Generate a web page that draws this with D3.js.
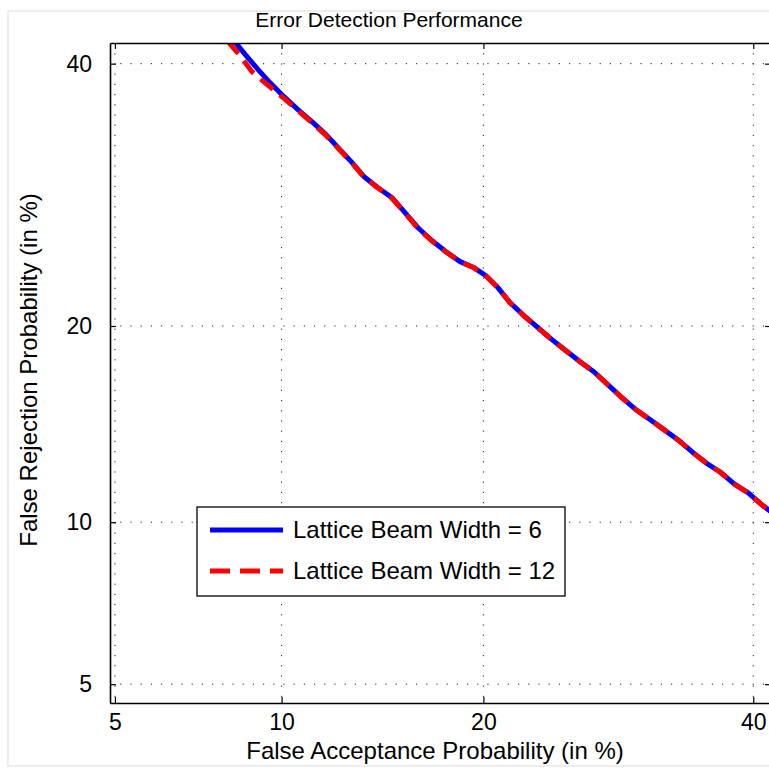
<!DOCTYPE html>
<html>
<head>
<meta charset="utf-8">
<script src="https://cdn.jsdelivr.net/npm/d3@7"></script>
<style>
  body { margin: 0; background: #fff; }
  svg { display: block; font-family: "Liberation Sans", Arial, sans-serif; }
</style>
</head>
<body>
<svg id="chart" width="769" height="768"></svg>
<script>
// ========== Data ==========

const tickValues = [5, 10, 20, 40];
const seriesNames = ["Lattice Beam Width = 6", "Lattice Beam Width = 12"];

// false acceptance / false rejection, in %
const beam6FA = [8.27, 8.68, 9.13, 9.56, 10.09, 10.64, 11.21, 11.81, 12.42, 12.97, 13.53, 14.20, 14.90, 15.52,
    16.25, 17.02, 17.80, 18.61, 19.44, 20.16, 20.91, 21.67, 22.58, 23.51, 24.46, 25.42, 26.41, 27.42,
    28.44, 29.49, 30.55, 31.64, 32.73, 33.83, 34.96, 36.10, 37.24, 38.40, 39.58, 40.76, 41.95];
const beam6FR = [42.1, 40.79, 39.49, 38.37, 37.17, 36.07, 35.07, 34.00, 32.77, 31.73, 30.61, 29.75, 28.98, 27.92,
    26.72, 25.77, 24.98, 24.28, 23.85, 23.30, 22.48, 21.49, 20.64, 19.88, 19.14, 18.48, 17.83, 17.24,
    16.51, 15.80, 15.16, 14.64, 14.13, 13.63, 13.05, 12.53, 12.12, 11.59, 11.20, 10.69, 10.25];

const beam12FA = [8.10, 8.50, 8.91, 9.42, 10.01, 10.60, 11.18, 11.76, 12.40, 12.95, 13.50, 14.16, 14.87, 15.50,
    16.22, 17.00, 17.78, 18.60, 19.42, 20.14, 20.90, 21.66, 22.56, 23.50, 24.45, 25.40, 26.40, 27.41,
    28.43, 29.48, 30.54, 31.63, 32.72, 33.82, 34.95, 36.09, 37.23, 38.39, 39.57, 40.75, 41.95];
const beam12FR = [41.93, 40.70, 39.31, 38.28, 37.17, 36.07, 35.05, 34.02, 32.77, 31.73, 30.63, 29.77, 28.98, 27.92,
    26.72, 25.77, 24.98, 24.28, 23.85, 23.30, 22.48, 21.49, 20.64, 19.88, 19.14, 18.48, 17.83, 17.24,
    16.51, 15.80, 15.16, 14.64, 14.13, 13.63, 13.05, 12.53, 12.12, 11.59, 11.20, 10.69, 10.25];

const xLimits = [4.89, 41.5];
const yLimits = [4.58, 41.8];

// ========== Helpers ==========

// inverse normal CDF (Acklam's approximation)
function probit(p) {
    const a = [-39.69683028665376, 220.9460984245205, -275.9285104469687, 138.3577518672690, -30.66479806614716, 2.506628277459239];
    const b = [-54.47609879822406, 161.5858368580409, -155.6989798598866, 66.80131188771972, -13.28068155288572];
    const c = [-0.007784894002430293, -0.3223964580411365, -2.400758277161838, -2.549732539343734, 4.374664141464968, 2.938163982698783];
    const d = [0.007784695709041462, 0.3224671290700398, 2.445134137142996, 3.754408661907416];
    const pl = 0.02425;
    let q, r;
    if (p < pl) {
        q = Math.sqrt(-2 * Math.log(p));
        return (((((c[0] * q + c[1]) * q + c[2]) * q + c[3]) * q + c[4]) * q + c[5]) /
               ((((d[0] * q + d[1]) * q + d[2]) * q + d[3]) * q + 1);
    }
    if (p > 1 - pl) {
        q = Math.sqrt(-2 * Math.log(1 - p));
        return -(((((c[0] * q + c[1]) * q + c[2]) * q + c[3]) * q + c[4]) * q + c[5]) /
                ((((d[0] * q + d[1]) * q + d[2]) * q + d[3]) * q + 1);
    }
    q = p - 0.5;
    r = q * q;
    return (((((a[0] * r + a[1]) * r + a[2]) * r + a[3]) * r + a[4]) * r + a[5]) * q /
           (((((b[0] * r + b[1]) * r + b[2]) * r + b[3]) * r + b[4]) * r + 1);
}

const pct = v => probit(v / 100);

// ========== Chart ==========

const svg = d3.select("#chart");
const margin = { top: 43, left: 110 },
    width = 661,
    height = 660;

// light figure frame
svg.append("rect")
    .attr("x", 8).attr("y", 11)
    .attr("width", 800).attr("height", 755)
    .attr("fill", "none")
    .attr("stroke", "#dcdcdc")
    .attr("stroke-width", 1);

const g = svg.append("g").attr("transform", `translate(${margin.left},${margin.top})`);

const x = d3.scaleLinear().domain(xLimits.map(pct)).range([0, width]);
const y = d3.scaleLinear().domain(yLimits.map(pct)).range([height, 0]);
const tickPos = tickValues.map(pct);

// dotted grid
g.append("g").selectAll("line")
    .data(tickPos)
    .join("line")
    .attr("x1", d => x(d)).attr("x2", d => x(d))
    .attr("y1", 0).attr("y2", height)
    .attr("stroke", "#222").attr("stroke-width", 1)
    .attr("stroke-dasharray", "1.2,9");

g.append("g").selectAll("line")
    .data(tickPos)
    .join("line")
    .attr("y1", d => y(d)).attr("y2", d => y(d))
    .attr("x1", 0).attr("x2", width)
    .attr("stroke", "#222").attr("stroke-width", 1)
    .attr("stroke-dasharray", "1.2,9");

// curves
g.append("clipPath").attr("id", "plotClip")
    .append("rect").attr("width", width).attr("height", height);

const line = d3.line()
    .x(d => x(pct(d[0])))
    .y(d => y(pct(d[1])));

const curves = g.append("g").attr("clip-path", "url(#plotClip)");

curves.append("path")
    .datum(d3.zip(beam6FA, beam6FR))
    .attr("fill", "none")
    .attr("stroke", "#0000ff")
    .attr("stroke-width", 5)
    .attr("stroke-linejoin", "round")
    .attr("d", line);

curves.append("path")
    .datum(d3.zip(beam12FA, beam12FR))
    .attr("fill", "none")
    .attr("stroke", "#ff0000")
    .attr("stroke-width", 5)
    .attr("stroke-dasharray", "16,9")
    .attr("d", line);

// axes, ticks pointing inward on all four sides
const styleAxis = sel => {
    sel.select(".domain").attr("stroke", "#000").attr("stroke-width", 1.6);
    sel.selectAll(".tick line").attr("stroke", "#000").attr("stroke-width", 1.2);
    sel.selectAll("text").attr("font-size", 23).attr("fill", "#000");
};

g.append("g")
    .attr("transform", `translate(0,${height})`)
    .call(d3.axisBottom(x).tickValues(tickPos).tickFormat((d, i) => tickValues[i])
        .tickSizeInner(-6).tickSizeOuter(0).tickPadding(11))
    .call(styleAxis);

g.append("g")
    .call(d3.axisLeft(y).tickValues(tickPos).tickFormat((d, i) => tickValues[i])
        .tickSizeInner(-6).tickSizeOuter(0).tickPadding(18))
    .call(styleAxis);

g.append("g")
    .call(d3.axisTop(x).tickValues(tickPos).tickFormat("").tickSizeInner(-6).tickSizeOuter(0))
    .call(styleAxis);

g.append("g")
    .attr("transform", `translate(${width},0)`)
    .call(d3.axisRight(y).tickValues(tickPos).tickFormat("").tickSizeInner(-6).tickSizeOuter(0))
    .call(styleAxis);

// titles
svg.append("text")
    .attr("x", 389).attr("y", 27)
    .attr("text-anchor", "middle")
    .attr("font-size", 21)
    .text("Error Detection Performance");

svg.append("text")
    .attr("x", 435).attr("y", 759)
    .attr("text-anchor", "middle")
    .attr("font-size", 24)
    .text("False Acceptance Probability (in %)");

svg.append("text")
    .attr("transform", `translate(37,${margin.top + 327}) rotate(-90)`)
    .attr("text-anchor", "middle")
    .attr("font-size", 24)
    .text("False Rejection Probability (in %)");

// ========== Legend ==========

const legend = svg.append("g").attr("transform", "translate(197,507)");

legend.append("rect")
    .attr("width", 368).attr("height", 89)
    .attr("fill", "#fff")
    .attr("stroke", "#000").attr("stroke-width", 1.3);

const legendItems = legend.selectAll(".item")
    .data(seriesNames)
    .join("g")
    .attr("transform", (d, i) => `translate(0,${23 + i * 41})`);

legendItems.append("line")
    .attr("x1", 13).attr("x2", 86)
    .attr("stroke", (d, i) => i === 0 ? "#0000ff" : "#ff0000")
    .attr("stroke-width", 5)
    .attr("stroke-dasharray", (d, i) => i === 0 ? null : "20,10");

legendItems.append("text")
    .attr("x", 96)
    .attr("dy", "0.35em")
    .attr("font-size", 24)
    .text(d => d);
</script>
</body>
</html>
